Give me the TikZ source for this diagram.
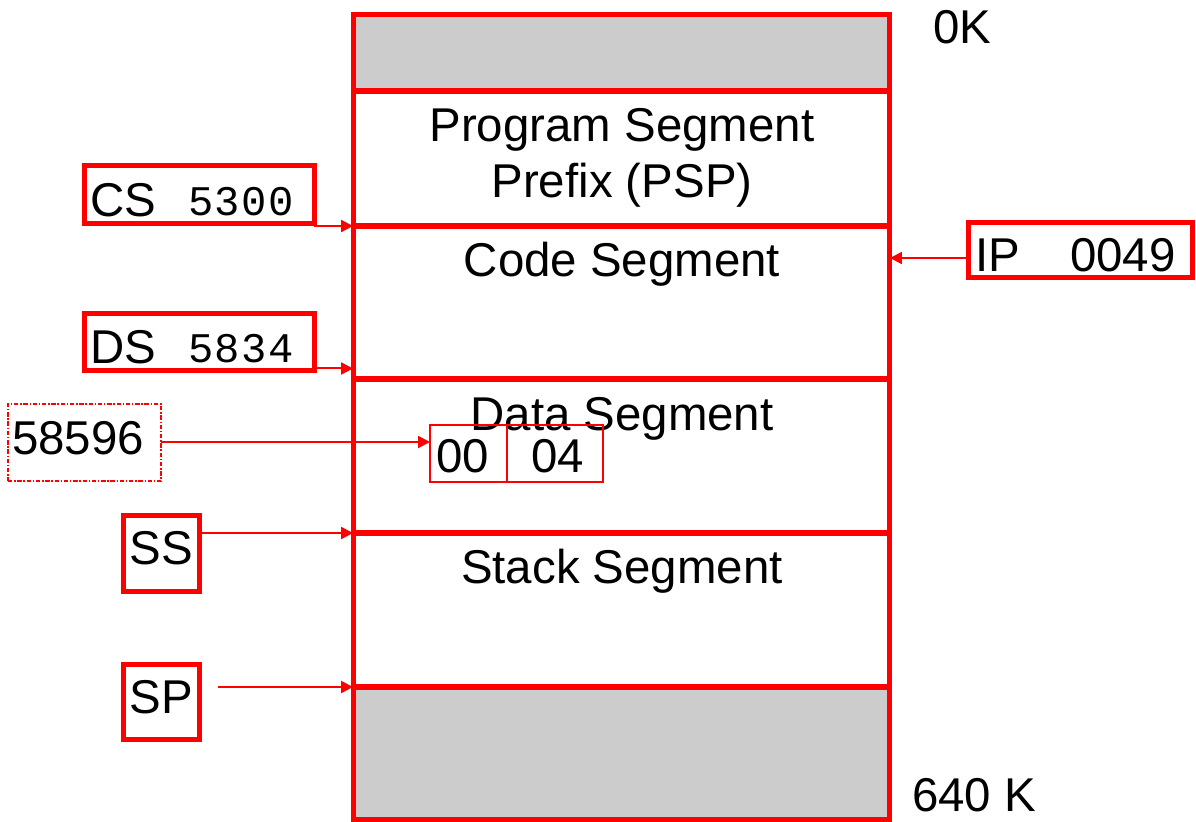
\documentclass[tikz,border=0pt]{standalone}
\usepackage{fontspec}
\setmainfont{Liberation Sans}
\newfontfamily\monof[LetterSpace=4]{Liberation Mono}
\usetikzlibrary{arrows.meta,calc}
\definecolor{memred}{RGB}{255,0,0}
\definecolor{memgray}{RGB}{204,204,204}
\tikzset{
  seg/.style={draw=memred, line width=0.1cm, minimum width=10.74cm, inner sep=0, outer sep=0},
  regbox/.style={draw=memred, line width=0.1cm, fill=white, inner sep=0, outer sep=0},
  cellbox/.style={draw=memred, line width=0.04cm, inner sep=0, outer sep=0},
  addrbox/.style={draw=memred, line width=0.03cm, inner sep=0, outer sep=0,
    dash pattern=on 2.5pt off 1pt on 0.8pt off 1pt},
  arr/.style={draw=memred, line width=0.04cm, -{Triangle[length=0.24cm,width=0.24cm]}},
  lbl/.style={inner sep=0, outer sep=0, font=\fontsize{27}{32}\selectfont},
  mono/.style={inner sep=0, outer sep=0, font=\monof\fontsize{24}{28}\selectfont},
}
\begin{document}
\begin{tikzpicture}[x=0.02cm,y=-0.02cm]
\useasboundingbox (0,0) rectangle (1196,821);
% memory column
\node[seg, fill=memgray, minimum height=1.54cm] (top) at (621.5,52.5) {};
\node[seg, minimum height=2.70cm] (psp) at (621.5,158.5) {};
\node[seg, minimum height=3.06cm] (code) at (621.5,302.5) {};
\node[seg, minimum height=3.08cm] (data) at (621.5,456) {};
\node[seg, minimum height=3.08cm] (stack) at (621.5,610) {};
\node[seg, fill=memgray, minimum height=2.65cm] (bottom) at (621.5,753.25) {};
% segment labels
\node[lbl, anchor=base] (pspA) at (622,141) {Program Segment};
\node[lbl, anchor=base] (pspB) at (622,197) {Prefix (PSP)};
\node[lbl, anchor=base] (codeL) at (622,276) {Code Segment};
\node[lbl, anchor=base] (dataL) at (622,430) {Data Segment};
\node[lbl, anchor=base] (stackL) at (622,583) {Stack Segment};
\node[lbl, anchor=base west] (k0) at (933,44) {0K};
\node[lbl, anchor=base west] (k640) at (912,811) {640 K};
% data cells
\node[cellbox, minimum width=1.54cm, minimum height=1.14cm] (c00) at (468.5,453.5) {};
\node[cellbox, minimum width=1.92cm, minimum height=1.14cm] (c04) at (555,453.5) {};
\node[lbl, anchor=base west] (t00) at (436,472) {00};
\node[lbl, anchor=base west] (t04) at (531,472) {04};
% registers
\node[regbox, minimum width=4.60cm, minimum height=1.16cm] (cs) at (199.5,194.5) {};
\node[lbl, anchor=base west] (csL) at (90,216) {CS};
\node[mono, anchor=base west] (csV) at (188,215) {5300};
\node[regbox, minimum width=4.60cm, minimum height=1.14cm] (ds) at (199.5,342) {};
\node[lbl, anchor=base west] (dsL) at (90,363) {DS};
\node[mono, anchor=base west] (dsV) at (188,362) {5834};
\node[regbox, minimum width=4.48cm, minimum height=1.10cm] (ip) at (1080.5,250) {};
\node[lbl, anchor=base west] (ipL) at (975,271) {IP};
\node[lbl, anchor=base west] (ipV) at (1070,271) {0049};
\node[regbox, minimum width=1.52cm, minimum height=1.52cm] (ss) at (161.5,553.5) {};
\node[lbl, anchor=base] (ssL) at (161.5,564) {SS};
\node[regbox, minimum width=1.52cm, minimum height=1.50cm] (sp) at (161.5,702) {};
\node[lbl, anchor=base] (spL) at (161.5,713) {SP};
\node[addrbox, minimum width=3.06cm, minimum height=1.54cm] (addr) at (84.5,442.5) {};
\node[lbl, anchor=base west] (addrL) at (12,454) {58596};
% connectors
\coordinate (csA) at (cs.south east |- code.north west);
\draw[arr] (csA) -- (code.north west);
\coordinate (dsA) at ($(ds.south east)+(0,-2)$);
\draw[arr] (dsA) -- (dsA -| data.west);
\coordinate (ipA) at ($(ip.west)+(0,8)$);
\draw[arr] (ipA) -- (ipA -| code.east);
\coordinate (adB) at ($(addr.east)+(0,-0.5)$);
\draw[arr] (adB) -- (adB -| c00.west);
\coordinate (ssA) at (ss.east |- stack.north west);
\draw[arr] (ssA) -- (stack.north west);
\coordinate (spA) at ($(sp.east |- bottom.north west)+(18.5,0)$);
\draw[arr] (spA) -- (bottom.north west);
\end{tikzpicture}
\end{document}
